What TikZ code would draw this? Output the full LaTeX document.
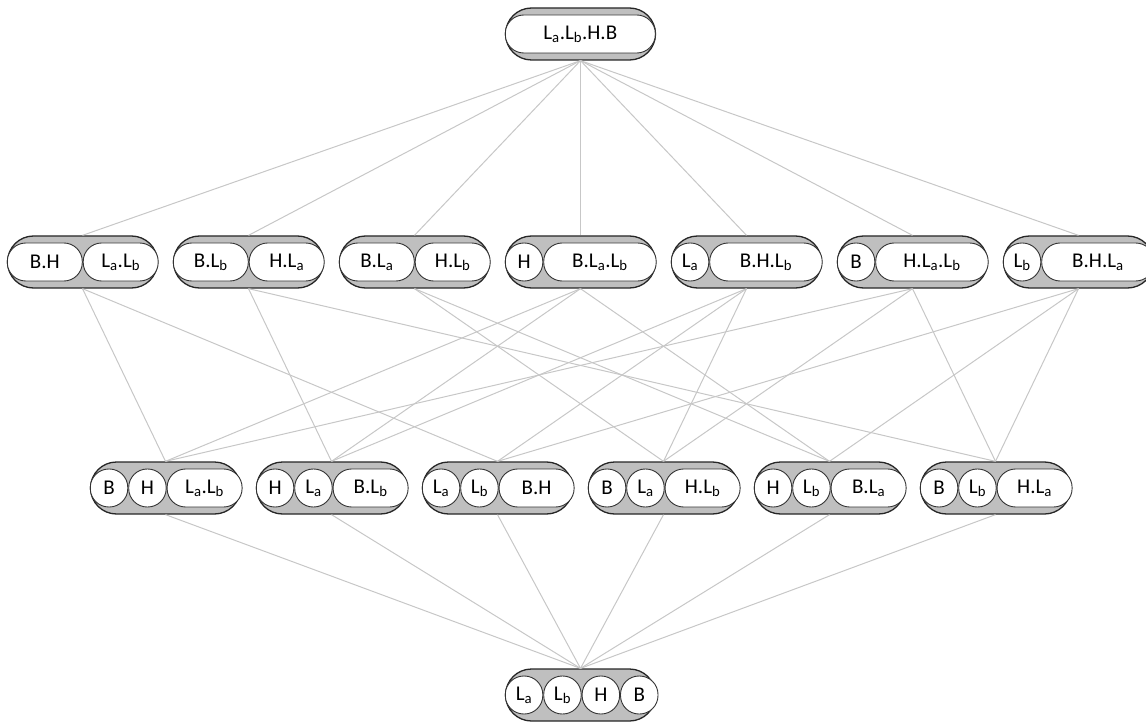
\documentclass[tikz,border=0pt]{standalone}
\usepackage{fontspec}
\setmainfont{Carlito}
\usetikzlibrary{positioning}

\newcommand{\La}{L\textsubscript{a}}
\newcommand{\Lb}{L\textsubscript{b}}

% a gray frame, with its white blocks put side by side inside it
% #1 name, #2 centre, #3 list of size/label
\newcommand{\blocknode}[3]{
  \node[frame] (#1) at (#2) {};
  \coordinate (#1-p) at (#1.west);
  \foreach \sz/\lab in {#3}{
    \node[blk, minimum width=\sz*37.5pt, right=0pt of #1-p] (#1-q) {\lab};
    \coordinate (#1-p) at (#1-q.east);
  }
}

\begin{document}
\begin{tikzpicture}[x=1pt,y=-1pt,
  frame/.style={draw=black!85, line width=1.3pt, fill=black!25,
    rounded corners=26pt, minimum width=150pt, minimum height=52pt, inner sep=0pt},
  blk/.style={draw=black!80, line width=0.9pt, fill=white,
    rounded corners=18.5pt, minimum height=38pt, inner sep=0pt,
    font=\fontsize{21}{24}\selectfont},
  link/.style={draw=black!22, line width=1pt}]
\useasboundingbox (0,0) rectangle (1146,722);

% the whole set on top
\blocknode{top}{580.5,34}{4/\La.\Lb.H.B}

% split in two parts
\blocknode{m1}{82.5,262}{2/B.H, 2/\La.\Lb}
\blocknode{m2}{248.5,262}{2/B.\Lb, 2/H.\La}
\blocknode{m3}{414.5,262}{2/B.\La, 2/H.\Lb}
\blocknode{m4}{580.5,262}{1/H, 3/B.\La.\Lb}
\blocknode{m5}{746.5,262}{1/\La, 3/B.H.\Lb}
\blocknode{m6}{912.5,262}{1/B, 3/H.\La.\Lb}
\blocknode{m7}{1078.5,262}{1/\Lb, 3/B.H.\La}

% split in three parts
\blocknode{l1}{165.5,488}{1/B, 1/H, 2/\La.\Lb}
\blocknode{l2}{331.5,488}{1/H, 1/\La, 2/B.\Lb}
\blocknode{l3}{497.5,488}{1/\La, 1/\Lb, 2/B.H}
\blocknode{l4}{663.5,488}{1/B, 1/\La, 2/H.\Lb}
\blocknode{l5}{829.5,488}{1/H, 1/\Lb, 2/B.\La}
\blocknode{l6}{995.5,488}{1/B, 1/\Lb, 2/H.\La}

% every element on its own
\blocknode{bot}{580.5,695}{1/\La, 1/\Lb, 1/H, 1/B}

% links between the rows
\foreach \i in {1,...,7}
  \draw[link] (top.south) -- (m\i.north);
\foreach \j/\ups in {1/{1,4,6}, 2/{2,4,5}, 3/{1,5,7}, 4/{3,5,6}, 5/{3,4,7}, 6/{2,6,7}}
  \foreach \i in \ups
    \draw[link] (m\i.south) -- (l\j.north);
\foreach \j in {1,...,6}
  \draw[link] (l\j.south) -- (bot.north);
\end{tikzpicture}
\end{document}
